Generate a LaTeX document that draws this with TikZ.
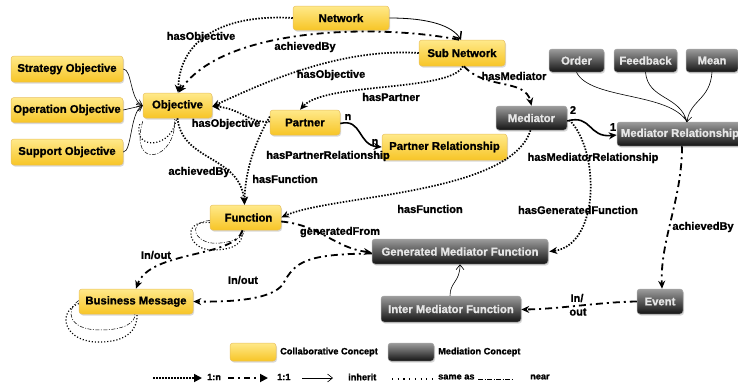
\documentclass[tikz,border=0pt]{standalone}
\usepackage{fontspec}
\setmainfont{Liberation Sans}[BoldFeatures={FakeBold=1.2}]
\usetikzlibrary{arrows.meta,shadows}
\definecolor{ylTop}{HTML}{FFE98A}
\definecolor{ylBot}{HTML}{F7C526}
\definecolor{ylDraw}{HTML}{E8C060}
\definecolor{dkTop}{HTML}{9C9C9C}
\definecolor{dkBot}{HTML}{141414}
\definecolor{dkText}{HTML}{E6E6E6}
\begin{document}
\begin{tikzpicture}[x=1pt,y=-1pt,
  box/.style={rounded corners=3pt, line width=0.5pt, minimum height=25pt, inner sep=1pt,
    font=\bfseries\fontsize{11.3}{13}\selectfont,
    drop shadow={shadow xshift=1pt,shadow yshift=-1.5pt,opacity=0.3}},
  yel/.style={box, draw=ylDraw, top color=ylTop, bottom color=ylBot, text=black},
  drk/.style={box, draw=gray!70, top color=dkTop, bottom color=dkBot, text=dkText},
  lbl/.style={font=\bfseries\fontsize{11}{13}\selectfont, inner sep=0pt},
  leg/.style={font=\bfseries\fontsize{9.2}{11}\selectfont, inner sep=0pt, anchor=west},
  dotl/.style={line width=1.7pt, dash pattern=on 1.5pt off 1.5pt},
  dashdotl/.style={line width=1.8pt, dash pattern=on 7pt off 4pt on 2pt off 4pt},
  loopdot/.style={line width=1.2pt, dash pattern=on 1.1pt off 2pt},
  loopdd/.style={line width=0.5pt, dash pattern=on 4pt off 1.5pt on 1pt off 1.5pt},
  ftip/.style={-{Stealth[length=8pt,width=7pt]}},
  otip/.style={-{Straight Barb[length=5pt,width=8pt]}},
]
\useasboundingbox (0,0) rectangle (738,389);

% ---------------- nodes ----------------
\node[yel, minimum width=96pt, minimum height=24pt] (net) at (341,18) {Network};
\node[yel, minimum width=86pt, minimum height=26pt] (sub) at (462,53) {Sub Network};
\node[yel, minimum width=112pt, minimum height=26pt] (strat) at (67,69) {Strategy Objective};
\node[yel, minimum width=112pt] (oper) at (67,110) {Operation Objective};
\node[yel, minimum width=112pt, minimum height=26pt] (supp) at (67,152) {Support Objective};
\node[yel, minimum width=69pt] (obj) at (177.5,105.5) {Objective};
\node[yel, minimum width=70pt] (part) at (305,122.5) {Partner};
\node[yel, minimum width=125pt, minimum height=26pt] (prel) at (444.5,147) {Partner Relationship};
\node[drk, minimum width=71pt, minimum height=24pt] (med) at (531.5,118) {Mediator};
\node[drk, minimum width=55pt, minimum height=23pt] (order) at (576.5,60.5) {Order};
\node[drk, minimum width=63pt, minimum height=23pt] (feed) at (645.5,60.5) {Feedback};
\node[drk, minimum width=52pt, minimum height=23pt] (mean) at (712,60.5) {Mean};
\node[drk, minimum width=126pt, minimum height=24pt] (mrel) at (680,134) {Mediator Relationship};
\node[yel, minimum width=71pt] (func) at (245.5,217.5) {\hspace*{6pt}Function};
\node[drk, minimum width=176pt] (gmf) at (460,251.5) {Generated Mediator Function};
\node[drk, minimum width=140pt, minimum height=26pt] (imf) at (451,309) {Inter Mediator Function};
\node[drk, minimum width=46pt] (event) at (660,301.5) {Event};
\node[yel, minimum width=114pt] (bm) at (136,301.5) {Business Message};

% ---------------- connectors ----------------
% inherit: objectives
\draw[otip, line width=0.6pt] (strat.east) .. controls (132,69) and (130,100) .. (obj.west);
\draw[otip, line width=0.6pt] (oper.east) -- (obj.west);
\draw[otip, line width=0.6pt] (supp.east) .. controls (132,152) and (130,112) .. (obj.west);

% Network -> Objective (hasObjective)
\draw[dotl, ftip] (net.west) .. controls (225,14) and (180,38) .. ([xshift=0.5pt]obj.north);
% Sub Network -> Objective (achievedBy)
\draw[dashdotl, ftip] ([xshift=-3pt]sub.north) .. controls (380,24) and (225,26) .. ([xshift=1pt]obj.north);
% Network -> Sub Network (inherit)
\draw[line width=0.8pt, -{Straight Barb[length=6pt,width=10pt,line width=1.5pt]}] (net.east) .. controls (430,18) and (452,26) .. ([xshift=-1pt]sub.north);
% Sub Network -> Objective (hasObjective)
\draw[dotl, ftip] (sub.west) .. controls (340,48) and (265,82) .. ([yshift=-1pt]obj.east);
% Partner -> Objective (hasObjective)
\draw[dotl, ftip] ([yshift=1pt]part.west) .. controls (250,124) and (240,108) .. ([yshift=-1pt]obj.east);
% Sub Network -> Partner (hasPartner)
\draw[dotl, ftip] ([xshift=1pt]sub.south) .. controls (450,92) and (325,82) .. ([xshift=-5pt]part.north);
% Sub Network -> Mediator (hasMediator)
\draw[dashdotl, ftip] ([xshift=2pt]sub.south) .. controls (485,90) and (525,78) .. (med.north);
% Partner -> Partner Relationship
\draw[line width=1.6pt, ftip] ([yshift=-1pt]part.east) .. controls (362,118) and (358,145) .. (prel.west);
% Partner -> Function (hasFunction)
\draw[dotl, ftip] ([yshift=6pt]part.west) .. controls (252,148) and (245,175) .. ([xshift=-1pt]func.north);
% Objective -> Function (achievedBy)
\draw[dotl, ftip] (obj.south) .. controls (182,162) and (240,155) .. ([xshift=-1pt]func.north);
% Objective self loops
\draw[loopdot] ([xshift=-3pt,yshift=-6pt]obj.south west) .. controls (132,150) and (172,150) .. ([xshift=-1pt]obj.south);
\draw[loopdd] ([yshift=-3pt]obj.south west) .. controls (128,172) and (178,160) .. ([xshift=-3pt]obj.south);
% Mediator -> Mediator Relationship
\draw[line width=1.6pt, ftip] ([yshift=-3pt]med.east) .. controls (592,114) and (588,138) .. ([yshift=-1pt]mrel.west);
% Order / Feedback / Mean -> Mediator Relationship
\coordinate (mrtop) at (687,122);
\draw[line width=0.6pt] (order.south) .. controls (590,100) and (670,92) .. (mrtop);
\draw[line width=0.6pt] (feed.south) .. controls (648,100) and (680,95) .. (mrtop);
\draw[line width=0.6pt, otip] (mean.south) .. controls (710,100) and (690,100) .. (mrtop);
% Mediator -> Function (hasFunction)
\draw[dotl, ftip] ([xshift=-1pt]med.south) .. controls (510,195) and (330,195) .. (func.east);
% Mediator -> Generated Mediator Function (hasGeneratedFunction)
\draw[dotl, ftip] ([xshift=2pt,yshift=-2pt]med.east) .. controls (600,150) and (600,245) .. ([xshift=1pt]gmf.east);
% Function -> Generated Mediator Function (generatedFrom)
\draw[dashdotl, ftip] ([yshift=-4pt]func.east) .. controls (320,225) and (335,248) .. ([yshift=-1pt]gmf.west);
% Function -> Business Message (In/out)
\draw[dashdotl, ftip] ([xshift=-3pt]func.south) .. controls (235,258) and (150,250) .. (bm.north);
% GMF -> Business Message (In/out)
\draw[dashdotl, ftip] ([yshift=-2pt]gmf.west) .. controls (305,254) and (295,262) .. (283,284)
   .. controls (272,300) and (230,302) .. (bm.east);
% Function self loops
\draw[loopdd] ([yshift=-3pt]func.west) .. controls (185,222) and (195,246) .. (220,243) .. controls (238,241) and (244,236) .. ([xshift=-1pt]func.south);
\draw[loopdot] ([yshift=-5pt]func.west) .. controls (180,220) and (188,252) .. (215,250) .. controls (236,249) and (243,243) .. ([xshift=-3pt]func.south);
% Business Message self loops
\draw[loopdd] ([yshift=1pt]bm.west) .. controls (65,310) and (68,330) .. (100,330) .. controls (126,330) and (135,322) .. ([xshift=-1pt]bm.south);
\draw[loopdot] ([yshift=-2pt]bm.west) .. controls (56,312) and (64,343) .. (100,342) .. controls (126,342) and (138,330) .. ([xshift=1pt]bm.south);
% Inter Mediator Function -> GMF (inherit)
\draw[line width=0.6pt, otip] ([xshift=-1pt]imf.north) .. controls (450,282) and (460,282) .. (gmf.south);
% Mediator Relationship -> Event (achievedBy)
\draw[dashdotl, ftip] ([xshift=2pt]mrel.south) .. controls (682,200) and (660,240) .. ([xshift=2pt]event.north);
% Event -> Inter Mediator Function (In/out)
\draw[dashdotl, ftip] (event.west) .. controls (600,302) and (560,309) .. ([yshift=-0.5pt]imf.east);

% ---------------- labels ----------------
\node[lbl] (l1) at (201,37) {hasObjective};
\node[lbl] (l2) at (305,47) {achievedBy};
\node[lbl] (l3) at (331,75) {hasObjective};
\node[lbl] (l4) at (391,97) {hasPartner};
\node[lbl] (l5) at (514,76) {hasMediator};
\node[lbl] (l6) at (226,124) {hasObjective};
\node[lbl] (l7) at (348,117) {n};
\node[lbl] (l8) at (375,142) {n};
\node[lbl] (l9) at (328,156) {hasPartnerRelationship};
\node[lbl] (l10) at (285,179) {hasFunction};
\node[lbl] (l11) at (199,172) {achievedBy};
\node[lbl] (l12) at (573,110) {2};
\node[lbl] (l13) at (613,127) {1};
\node[lbl] (l14) at (593,158) {hasMediatorRelationship};
\node[lbl] (l15) at (430,209) {hasFunction};
\node[lbl] (l16) at (578,210) {hasGeneratedFunction};
\node[lbl] (l17) at (340,232) {generatedFrom};
\node[lbl] (l18) at (156,255) {In/out};
\node[lbl] (l19) at (243,280) {In/out};
\node[lbl] (l20) at (703,227) {achievedBy};
\node[lbl] (l21) at (577,298) {In/};
\node[lbl] (l22) at (578,312) {out};

% ---------------- legend ----------------
\node[yel, minimum width=46pt, minimum height=18pt] (sw1) at (253,352) {};
\node[leg] (tcol) at (280,352) {Collaborative Concept};
\node[drk, minimum width=46pt, minimum height=18pt] (sw2) at (411,352) {};
\node[leg] (tmed) at (438,352) {Mediation Concept};

\coordinate (a1) at (153,378); \coordinate (a2) at (202,378);
\draw[dotl, -{Triangle[length=8pt,width=8pt]}] (a1) -- (a2);
\node[leg] (t1n) at (207,377) {1:n};
\coordinate (b1) at (228,378); \coordinate (b2) at (268,378);
\draw[line width=1.8pt, dash pattern=on 6pt off 4pt on 2pt off 4pt, -{Triangle[length=8pt,width=8pt]}] (b1) -- (b2);
\node[leg] (t11) at (277,377) {1:1};
\coordinate (c1) at (302,378); \coordinate (c2) at (333,378);
\draw[line width=0.6pt, -{Straight Barb[length=5pt,width=8pt]}] (c1) -- (c2);
\node[leg] (tinh) at (348,377) {inherit};
\coordinate (d1) at (392,379); \coordinate (d2) at (433,379);
\draw[line width=1.2pt, dash pattern=on 1.2pt off 4.5pt] (d1) -- (d2);
\node[leg] (tsame) at (438,377) {same as};
\coordinate (e1) at (478,379); \coordinate (e2) at (513,379);
\draw[line width=0.5pt, dash pattern=on 5pt off 1.5pt on 1pt off 1.5pt] (e1) -- (e2);
\node[leg] (tnear) at (530,377) {near};
\end{tikzpicture}
\end{document}
